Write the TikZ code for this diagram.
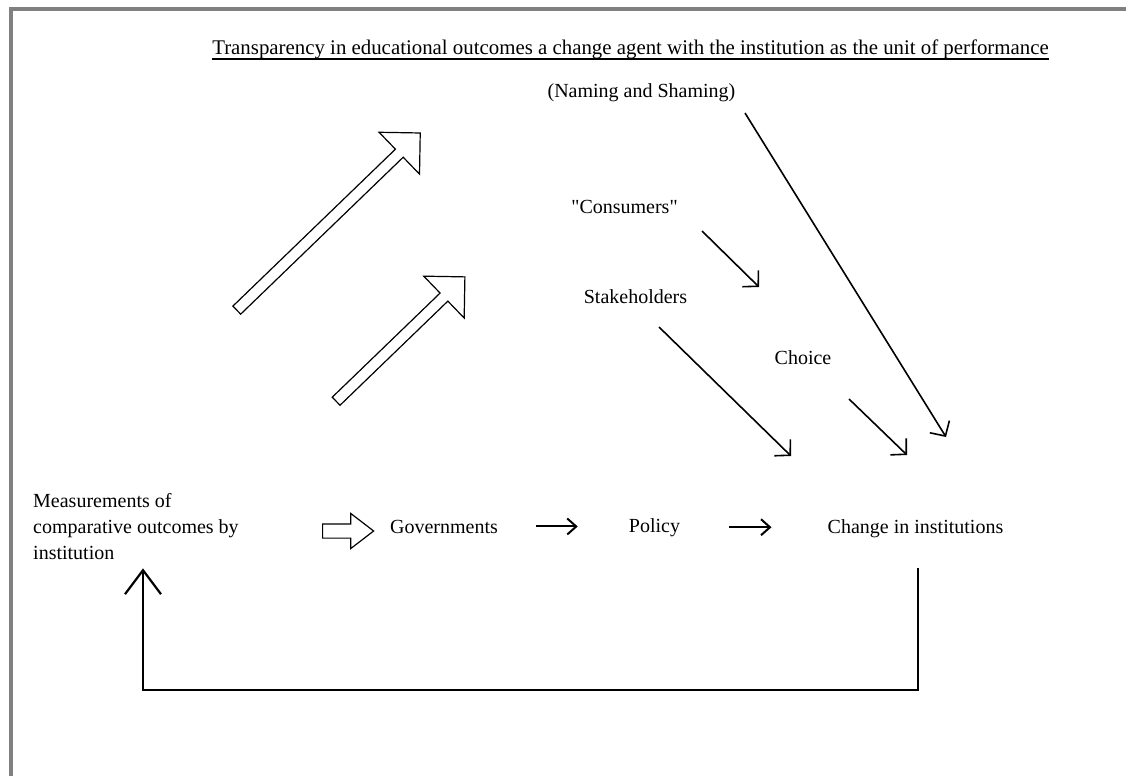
\documentclass[tikz,border=0pt]{standalone}
\usepackage{fontspec}
\setmainfont{Liberation Serif}
\usepackage{tikz}
\usetikzlibrary{arrows.meta,shapes.arrows}
\definecolor{framegray}{RGB}{128,128,128}

\begin{document}
\begin{tikzpicture}[x=1pt,y=-1pt,font=\fontsize{20}{26}\selectfont]
        \tikzstyle{txtnode}=[inner sep=0pt, anchor=base]
        \tikzstyle{blockarrow}=[
            single arrow,
            draw=black,
            line width=1.2pt,
            fill=white,
            minimum width=0pt
        ]
        \tikzstyle{thinarrow}=[-{Straight Barb[length=11pt,width=23pt]}, line width=1.6pt]
        \tikzstyle{textarrow}=[-{Straight Barb[length=9pt,width=16pt]}, line width=2pt]
        \tikzstyle{fbarrow}=[-{Straight Barb[length=24pt,width=36pt]}, line width=2.2pt]

        \useasboundingbox (0,0) rectangle (1132,776);
        \draw[framegray, line width=4pt] (11,776) -- (11,9) -- (1126,9);

        \node[txtnode, font=\fontsize{20.85}{26}\selectfont] (title) at (630.5,55){Transparency in educational outcomes a change agent with the institution as the unit of performance};
        \draw[line width=1.2pt] ([yshift=-4pt]title.base west) -- ([yshift=-4pt]title.base east);

        \node[txtnode] (naming) at (641.5,97){(Naming and Shaming)};
        \node[txtnode] (consumers) at (624.5,213){\textquotedbl Consumers\textquotedbl};
        \node[txtnode] (stake) at (635.5,303){Stakeholders};
        \node[txtnode] (choice) at (803,364){Choice};
        \node[inner sep=0pt, anchor=west, align=left] (meas) at (33,527){Measurements of\\comparative outcomes by\\institution};
        \node[txtnode] (gov) at (444,533){Governments};
        \node[txtnode] (policy) at (654.5,532){Policy};
        \node[txtnode] (change) at (915.5,533){Change in institutions};

        \node[blockarrow, inner sep=5pt, single arrow head extend=23.5pt, single arrow tip angle=90,
              minimum height=255pt, rotate=44] (up1) at (326.5,223.5){};
        \node[blockarrow, inner sep=5pt, single arrow head extend=23.5pt, single arrow tip angle=90,
              minimum height=179pt, rotate=44] (up2) at (398.5,341){};
        \node[blockarrow, inner sep=6.5pt, single arrow head extend=10.5pt, single arrow tip angle=75,
              minimum height=51pt] (toGov) at (343.5,531){};

        \coordinate (consA) at (702,231);
        \coordinate (consB) at (759,287);
        \coordinate (stakeA) at (659,327);
        \coordinate (stakeB) at (791,456);
        \coordinate (choiceA) at (849,399);
        \coordinate (choiceB) at (907,455);
        \coordinate (namingA) at (745,113);
        \coordinate (namingB) at (946,437);
        \coordinate (fbR) at (918,690);
        \coordinate (fbL) at (143,690);

        \draw[thinarrow] (consA) -- (consB);
        \draw[thinarrow] (stakeA) -- (stakeB);
        \draw[thinarrow] (choiceA) -- (choiceB);
        \draw[thinarrow] (namingA) -- (namingB);

        \draw[textarrow, shorten <=38pt, shorten >=51pt] (gov.east) -- (policy.west |- gov.east);
        \draw[textarrow, shorten <=49pt, shorten >=56pt] (policy.east) -- (change.west |- policy.east);

        \draw[fbarrow, shorten <=30pt, shorten >=8pt] (change.south -| fbR) -- (fbR) -- (fbL) -- (fbL |- meas.south);

    \end{tikzpicture}
\end{document}
